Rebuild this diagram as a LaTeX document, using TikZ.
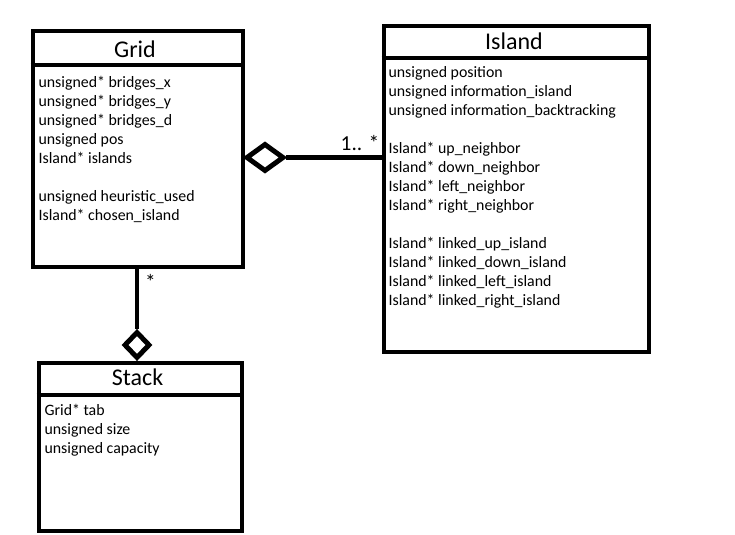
\documentclass[tikz,border=0pt]{standalone}
\usepackage{fontspec}
\setmainfont{Carlito}
\usetikzlibrary{shapes.geometric}
\begin{document}
\begin{tikzpicture}[x=0.75pt,y=-0.75pt,
  umlbox/.style={draw=black,line width=3.7pt,fill=white,inner sep=0pt},
  sepline/.style={draw=black,line width=3.7pt},
  title/.style={anchor=base,inner sep=0pt,font=\fontsize{18}{20}\selectfont},
  attr/.style={anchor=base west,inner sep=0pt,font=\fontsize{11.9}{13}\selectfont},
  mult/.style={anchor=base,inner sep=0pt,font=\fontsize{16}{18}\selectfont},
  agg/.style={diamond,draw=black,line width=3.7pt,fill=white,inner sep=0pt,line join=miter,aspect=1},
  conn/.style={draw=black,line width=3.7pt}]
\path[fill=white] (0,0) rectangle (735,535);

% class boxes
\node[umlbox,minimum width=210*0.75pt,minimum height=236*0.75pt] (grid) at (138,149) {};
\node[umlbox,minimum width=265*0.75pt,minimum height=326*0.75pt] (island) at (516.5,189) {};
\node[umlbox,minimum width=203*0.75pt,minimum height=168*0.75pt] (stack) at (140.5,447) {};

% header separators
\coordinate (gs) at (0,65);
\coordinate (is) at (0,58);
\coordinate (ss) at (0,395);
\draw[sepline] (grid.west |- gs) -- (grid.east |- gs);
\draw[sepline] (island.west |- is) -- (island.east |- is);
\draw[sepline] (stack.west |- ss) -- (stack.east |- ss);

% titles
\node[title] (gridtitle) at (135,57.7) {Grid};
\node[title] (islandtitle) at (514,50) {Island};
\node[title] (stacktitle) at (137.5,385) {Stack};

% attributes
\foreach \k/\t in {0/unsigned* bridges\_x,1/unsigned* bridges\_y,2/unsigned* bridges\_d,3/unsigned pos,4/Island* islands,6/unsigned heuristic\_used,7/Island* chosen\_island}
  \node[attr] (ga\k) at (38.3,{87.3+19*\k}) {\t};
\foreach \k/\t in {0/unsigned position,1/unsigned information\_island,2/unsigned information\_backtracking,4/Island* up\_neighbor,5/Island* down\_neighbor,6/Island* left\_neighbor,7/Island* right\_neighbor,9/Island* linked\_up\_island,10/Island* linked\_down\_island,11/Island* linked\_left\_island,12/Island* linked\_right\_island}
  \node[attr] (ia\k) at (388.3,{77.7+19*\k}) {\t};
\foreach \k/\t in {0/Grid* tab,1/unsigned size,2/unsigned capacity}
  \node[attr] (sa\k) at (44.3,{415+19*\k}) {\t};

% aggregations
\node[agg,minimum width=38*0.75pt,minimum height=28*0.75pt] (d1) at (265,157.5) {};
\draw[conn] (d1.east) -- (d1.east -| island.west);
\node[agg,minimum width=26*0.75pt,minimum height=27*0.75pt] (d2) at (137,345) {};
\draw[conn] (d2.north) -- (d2.north |- grid.south);

% multiplicities
\node[mult] (m1) at (360,150.5) {1.. *};
\node[mult] (m2) at (150.5,289.5) {*};
\end{tikzpicture}
\end{document}
